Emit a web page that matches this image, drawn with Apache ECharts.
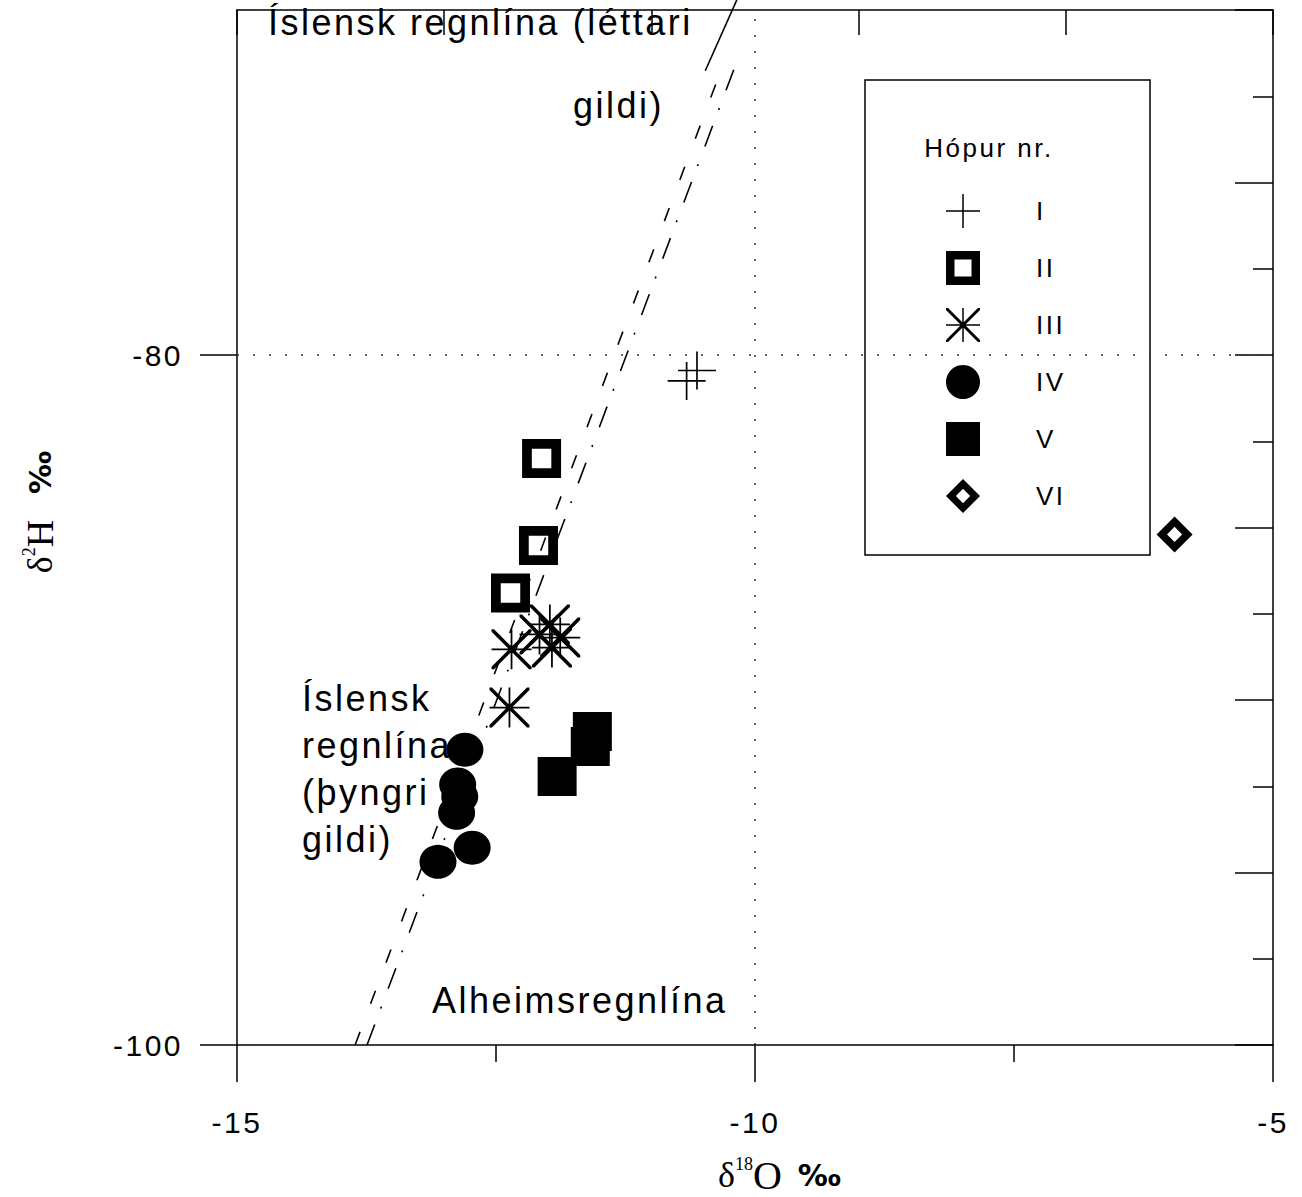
<!DOCTYPE html>
<html>
<head>
<meta charset="utf-8">
<script src="https://cdn.jsdelivr.net/npm/echarts@6/dist/echarts.min.js"></script>
<style>
html,body{margin:0;padding:0;background:#fff;}
#chart{width:1302px;height:1197px;}
#chart svg text{letter-spacing:2.5px;}
#chart svg text[style*="Serif"], #chart svg text[font-family*="Serif"],
#chart svg text[style*="DejaVu Sans"], #chart svg text[font-family*="DejaVu Sans"]{letter-spacing:0;}
</style>
</head>
<body>
<div id="chart"></div>
<script>
// ---- data ----
const groupNames = ['I', 'II', 'III', 'IV', 'V', 'VI'];
const groupI   = [[-10.66, -80.75], [-10.56, -80.45]];
const groupII  = [[-12.06, -83.00], [-12.09, -85.52], [-12.36, -86.90]];
const groupIII = [[-12.35, -88.53], [-12.37, -90.22], [-12.08, -88.10], [-11.98, -87.81], [-11.96, -88.48], [-11.88, -88.19]];
const groupIV  = [[-12.80, -91.44], [-12.87, -92.45], [-12.85, -92.80], [-12.88, -93.27], [-12.73, -94.28], [-13.06, -94.69]];
const groupV   = [[-11.57, -90.91], [-11.59, -91.35], [-11.91, -92.22]];
const groupVI  = [[-5.95, -85.20]];
const globalLine  = [[-13.745, -100], [-10.17, -71.45]];
const icelandLine = [[-13.86, -100], [-10.31, -71.60]];
const topSegment  = [[-10.48, -71.76], [-10.17, -69.67]];
const xTickLabels = [-15, -10, -5];
const yTickLabels = [-100, -80];
const refX = -10;
const refY = -80;

// ---- styles ----
const FONT = '"Liberation Sans", Arial, sans-serif';
const SERIF = '"Liberation Serif", "DejaVu Serif", serif';
const PERMIL = '"DejaVu Sans", sans-serif';
const BLACK = '#000';

const SYM_PLUS = 'path://M4.78,0H5.22V4.78H10V5.22H5.22V10H4.78V5.22H0V4.78H4.78Z';
const SYM_OPEN_SQUARE = 'path://M0,0H10V10H0Z M2.5,2.5V7.5H7.5V2.5Z';
const SYM_STAR = 'path://M4.78,0H5.22V10H4.78Z M0,4.78H10V5.22H0Z M0,0L0.62,0L10,9.38L10,10L9.38,10L0,0.62Z M9.38,0L10,0L10,0.62L0.62,10L0,10L0,9.38Z';
const SYM_OPEN_DIAMOND = 'path://M5,0L10,5L5,10L0,5Z M5,2.9L2.9,5L5,7.1L7.1,5Z';

const chart = echarts.init(document.getElementById('chart'), null, {renderer: 'svg'});

const axisLineStyle = {color: BLACK, width: 1.5};

function scatter(name, data, symbol, size) {
  return {
    name: name, type: 'scatter', data: data, symbol: symbol, symbolSize: size,
    itemStyle: {color: BLACK, opacity: 1}, z: 5, silent: true,
    emphasis: {disabled: true}
  };
}

const option = {
  animation: false,
  backgroundColor: '#fff',
  textStyle: {fontFamily: FONT, color: BLACK},
  grid: {left: 237, right: 29, top: 10, bottom: 152},
  xAxis: [
    {
      type: 'value', min: -15, max: -5, interval: 5, position: 'bottom',
      axisLine: {show: true, onZero: false, lineStyle: axisLineStyle},
      axisTick: {show: true, inside: false, length: 37, lineStyle: axisLineStyle},
      minorTick: {show: true, splitNumber: 2, length: 17, lineStyle: axisLineStyle},
      splitLine: {show: false},
      axisLabel: {
        margin: 62, fontSize: 30, color: BLACK, fontFamily: FONT,
        formatter: v => xTickLabels.indexOf(v) >= 0 ? String(v) : ''
      }
    },
    {
      type: 'value', min: -15, max: -5, interval: 2, position: 'top',
      axisLine: {show: true, onZero: false, lineStyle: axisLineStyle},
      axisTick: {show: true, inside: true, length: 25, lineStyle: axisLineStyle},
      splitLine: {show: false},
      axisLabel: {show: false}
    }
  ],
  yAxis: [
    {
      type: 'value', min: -100, max: -70, interval: 20, position: 'left',
      axisLine: {show: true, onZero: false, lineStyle: axisLineStyle},
      axisTick: {show: true, inside: false, length: 37, lineStyle: axisLineStyle},
      splitLine: {show: false},
      axisLabel: {
        margin: 54, fontSize: 30, color: BLACK, fontFamily: FONT, showMaxLabel: false,
        formatter: v => yTickLabels.indexOf(v) >= 0 ? String(v) : ''
      }
    },
    {
      type: 'value', min: -100, max: -70, interval: 5, position: 'right',
      axisLine: {show: true, onZero: false, lineStyle: axisLineStyle},
      axisTick: {show: true, inside: true, length: 38, lineStyle: axisLineStyle},
      minorTick: {show: true, splitNumber: 2, length: 20, lineStyle: axisLineStyle},
      splitLine: {show: false},
      axisLabel: {show: false}
    }
  ],
  legend: {
    data: groupNames,
    orient: 'vertical',
    left: 946, top: 194,
    padding: 0,
    itemWidth: 34, itemHeight: 34, itemGap: 23,
    selectedMode: false,
    z: 10,
    textStyle: {fontSize: 26, color: BLACK, fontFamily: FONT, padding: [0, 0, 0, 51]}
  },
  graphic: [
    {type: 'rect', z: 1, silent: true, shape: {x: 865, y: 80, width: 285, height: 475},
     style: {fill: 'none', stroke: BLACK, lineWidth: 1.5}},
    {type: 'text', z: 10, silent: true, x: 989, y: 148,
     style: {text: 'Hópur nr.', fontSize: 26, fontFamily: FONT, fill: BLACK, align: 'center', verticalAlign: 'middle'}},
    {type: 'text', z: 10, silent: true, x: 268, y: 22,
     style: {text: 'Íslensk regnlína (léttari', fontSize: 36, fontFamily: FONT, fill: BLACK, align: 'left', verticalAlign: 'middle'}},
    {type: 'text', z: 10, silent: true, x: 664, y: 105,
     style: {text: 'gildi)', fontSize: 36, fontFamily: FONT, fill: BLACK, align: 'right', verticalAlign: 'middle'}},
    {type: 'text', z: 10, silent: true, x: 302, y: 675,
     style: {text: 'Íslensk\nregnlína\n(þyngri\ngildi)', fontSize: 36, lineHeight: 47, fontFamily: FONT, fill: BLACK, align: 'left', verticalAlign: 'top'}},
    {type: 'text', z: 10, silent: true, x: 432, y: 1000,
     style: {text: 'Alheimsregnlína', fontSize: 36, fontFamily: FONT, fill: BLACK, align: 'left', verticalAlign: 'middle'}},
    {type: 'text', z: 10, silent: true, x: 40, y: 512, rotation: Math.PI / 2,
     style: {
       text: '{d|δ}{s|2}{h|H}{g| }{p|‰}', align: 'center', verticalAlign: 'middle',
       rich: {
         d: {fontSize: 36, fontFamily: SERIF, fill: BLACK, lineHeight: 40},
         s: {fontSize: 18, fontFamily: SERIF, fill: BLACK, lineHeight: 18, verticalAlign: 'top'},
         h: {fontSize: 38, fontFamily: SERIF, fill: BLACK, lineHeight: 40},
         g: {fontSize: 10, fontFamily: SERIF, width: 26, lineHeight: 40},
         p: {fontSize: 30, fontFamily: PERMIL, fontWeight: 'bold', fill: BLACK, lineHeight: 40}
       }
     }},
    {type: 'text', z: 10, silent: true, x: 718, y: 1175,
     style: {
       text: '{d|δ}{s|18}{o|O}{g| }{p|‰}', align: 'left', verticalAlign: 'middle',
       rich: {
         d: {fontSize: 36, fontFamily: SERIF, fill: BLACK, lineHeight: 40},
         s: {fontSize: 18, fontFamily: SERIF, fill: BLACK, lineHeight: 18, verticalAlign: 'top'},
         o: {fontSize: 40, fontFamily: SERIF, fill: BLACK, lineHeight: 40},
         g: {fontSize: 10, fontFamily: SERIF, width: 16, lineHeight: 40},
         p: {fontSize: 30, fontFamily: PERMIL, fontWeight: 'bold', fill: BLACK, lineHeight: 40}
       }
     }}
  ],
  series: [
    {
      name: 'Alheimsregnlína', type: 'line', data: globalLine, symbol: 'none', showSymbol: false,
      silent: true, z: 2,
      lineStyle: {color: BLACK, width: 1.6, type: [22, 17, 2, 19]}
    },
    {
      name: 'Íslensk regnlína', type: 'line', data: icelandLine, symbol: 'none', showSymbol: false,
      silent: true, z: 2,
      lineStyle: {color: BLACK, width: 1.6, type: [14, 30]},
      markLine: {
        silent: true, symbol: ['none', 'none'], label: {show: false}, animation: false,
        lineStyle: {color: '#333', width: 1.5, type: [2, 14]},
        data: [{xAxis: refX}, {yAxis: refY}]
      }
    },
    {
      name: 'léttari', type: 'line', data: topSegment, symbol: 'none', showSymbol: false,
      silent: true, z: 2, clip: false,
      lineStyle: {color: BLACK, width: 1.6, type: 'solid'}
    },
    scatter('I', groupI, SYM_PLUS, 38),
    scatter('II', groupII, SYM_OPEN_SQUARE, 39),
    scatter('III', groupIII, SYM_STAR, 40),
    scatter('IV', groupIV, 'circle', [37, 34]),
    scatter('V', groupV, 'rect', 39),
    scatter('VI', groupVI, SYM_OPEN_DIAMOND, 36)
  ]
};

chart.setOption(option);
</script>
</body>
</html>
